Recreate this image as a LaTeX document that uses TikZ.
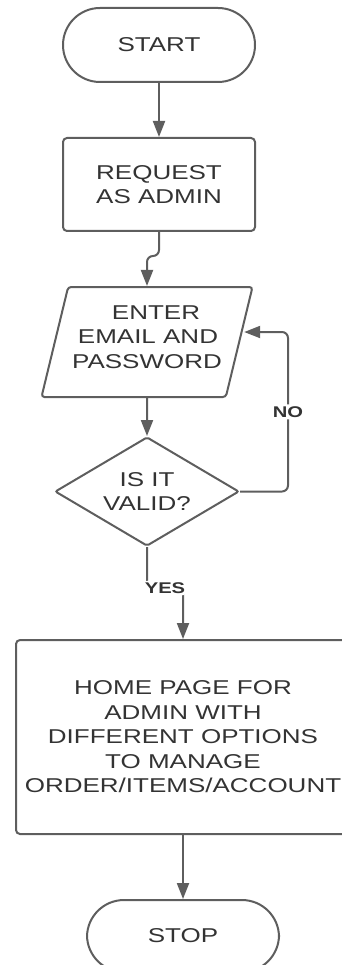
\documentclass[tikz,border=0pt]{standalone}
\usepackage{fontspec}
\setmainfont{Liberation Sans}[FakeStretch=1.3]
\usetikzlibrary{positioning, arrows.meta, shapes.geometric}

\definecolor{linegray}{HTML}{5E5E5E}
\definecolor{textgray}{HTML}{333333}

\begin{document}
\begin{tikzpicture}[
  x=1pt, y=1pt,
  node distance=54pt,
  every node/.style={text=textgray, font=\fontsize{20}{24.5}\selectfont, align=center},
  terminal/.style={draw=linegray, line width=2pt, rounded corners=37pt, minimum width=192pt, minimum height=74pt},
  process/.style={draw=linegray, line width=2pt, rounded corners=4pt, minimum width=192pt, minimum height=93pt},
  inputbox/.style={draw=linegray, line width=2pt, trapezium, trapezium left angle=70, trapezium right angle=110,
    trapezium stretches body=true, rounded corners=3pt, minimum width=211pt, minimum height=110pt, inner sep=0pt},
  decision/.style={draw=linegray, line width=2pt, diamond, shape aspect=1.7, rounded corners=2pt,
    minimum width=184pt, minimum height=109pt, inner sep=0pt},
  arrow/.style={-{Triangle[length=16pt, width=12pt]}, draw=linegray, line width=2pt, rounded corners=6pt},
  answer/.style={fill=white, font=\bfseries\fontsize{15.5}{15.5}\selectfont, inner sep=2pt}
]

\useasboundingbox (0,0) rectangle (342,-965);

% Flow nodes
\node[terminal] (start) at (159,-45) {START};
\node[process, below=54pt of start] (request) {REQUEST\\AS ADMIN};
\node[inputbox, below=54pt of request, xshift=-12pt] (login)
  {\hspace*{18pt}ENTER\\\hspace*{2pt}EMAIL AND\\PASSWORD\hspace*{16pt}\\[-14pt]};
\node[decision, below=38pt of login] (valid) {IS IT\\VALID?};
\node[process, below=92pt of valid, xshift=36pt, minimum width=334pt, minimum height=194pt] (home)
  {HOME PAGE FOR\\ADMIN WITH\\DIFFERENT OPTIONS\\TO MANAGE\\ORDER/ITEMS/ACCOUNT};
\node[terminal, below=64pt of home, minimum height=72pt] (stop) {STOP};

% Arrows
\draw[arrow] (start) -- (request);
\draw[arrow] (request.south) -- ++(0,-24) -| (login.north);
\draw[arrow] (login) -- (valid);
\draw[arrow] (valid.east) -- ++(48,0) |- node[pos=0.25, answer] {NO} ([xshift=4pt, yshift=10pt]login.east);
\draw[arrow] (valid.south) -- ++(0,-41) -| node[pos=0.25, answer] {YES} (home.north);
\draw[arrow] (home) -- (stop);

\end{tikzpicture}
\end{document}
